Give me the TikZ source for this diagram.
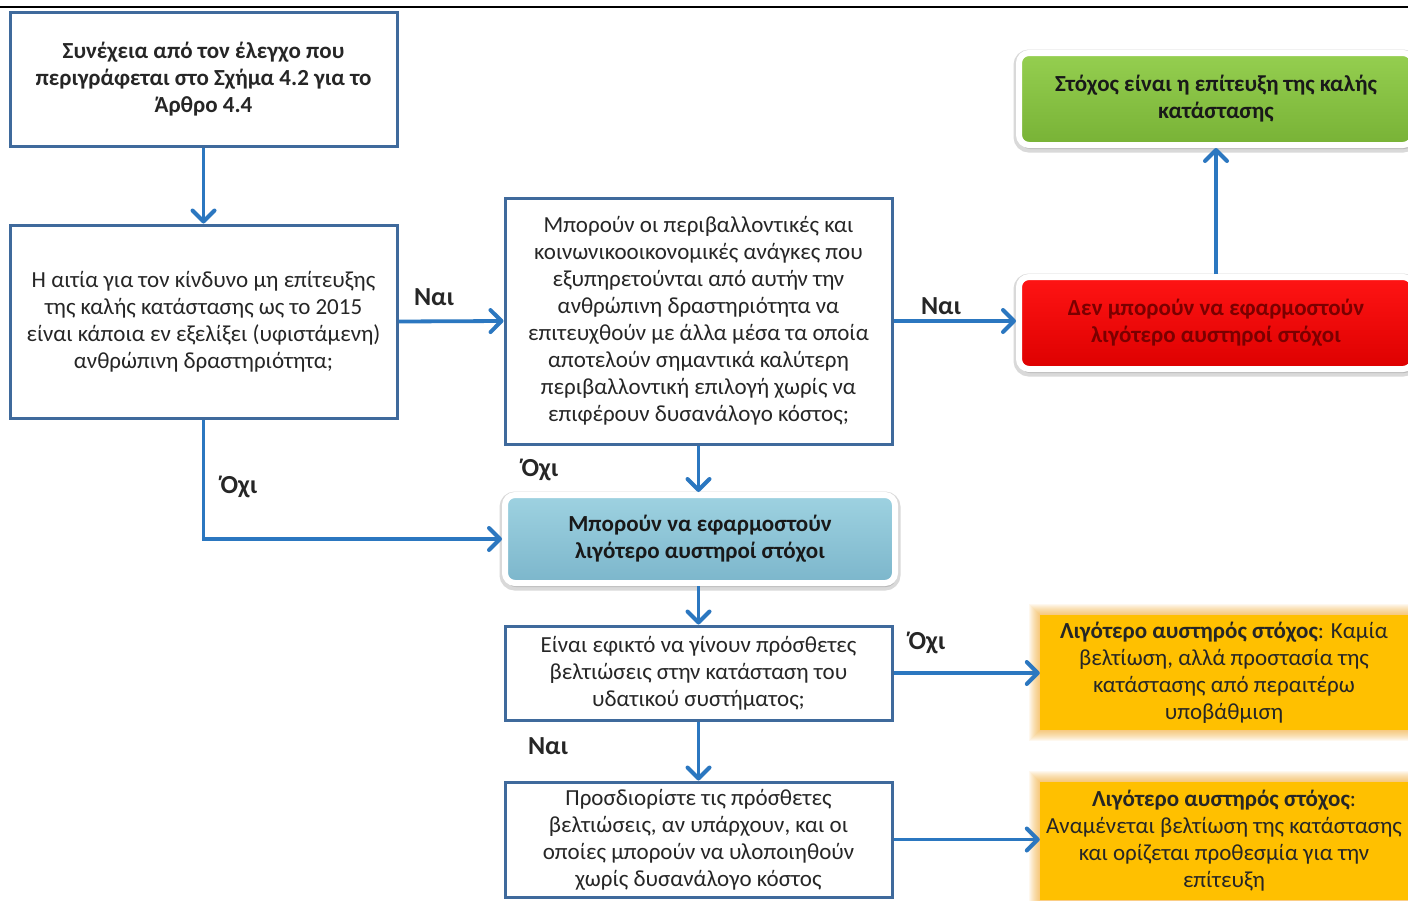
\documentclass[tikz,border=0pt]{standalone}
\usepackage{fontspec}
\setmainfont{Carlito}
\usetikzlibrary{arrows.meta,shadows}
\definecolor{boxblue}{HTML}{3F6A9C}
\definecolor{arrblue}{HTML}{2B77C0}
\definecolor{darkred}{HTML}{7A0000}
\definecolor{orangefill}{HTML}{FFC000}
\definecolor{glow}{HTML}{F7A21B}
\definecolor{gtop}{HTML}{95CF50}
\definecolor{gbot}{HTML}{78B236}
\definecolor{rtop}{HTML}{FF1414}
\definecolor{rbot}{HTML}{DD0000}
\definecolor{btop}{HTML}{9ED2E1}
\definecolor{bbot}{HTML}{7CB6CB}
\definecolor{txt}{HTML}{262626}
\tikzset{
  box/.style={draw=boxblue, line width=3pt, fill=white, align=center,
    font=\fontsize{23}{27}\selectfont, inner sep=0pt, text=txt},
  roundbox/.style={rounded corners=10pt, draw=white, line width=6pt, align=center,
    font=\bfseries\fontsize{23}{27}\selectfont, inner sep=0pt,
    preaction={draw=black!15, line width=11pt, transform canvas={yshift=-2pt}},
    drop shadow={shadow xshift=1pt, shadow yshift=-4pt, opacity=0.22, fill=black!70}},
  obox/.style={fill=orangefill, align=center, font=\fontsize{23}{27}\selectfont,
    inner sep=0pt, text=txt},
  conn/.style={draw=arrblue, line width=3.8pt,
    -{Straight Barb[length=11pt,width=22pt,line width=4pt,round]}},
  lbl/.style={font=\bfseries\fontsize{26}{30}\selectfont, text=txt},
}
\begin{document}
\begin{tikzpicture}[x=1pt,y=-1pt]
\useasboundingbox (0,0) rectangle (1408,900);
\fill[white] (0,0) rectangle (1408,900);
\draw[black, line width=2pt] (0,7) -- (1408,7);

% rectangular boxes
\node[box, minimum width=387pt, minimum height=134pt, font=\bfseries\fontsize{23}{27}\selectfont] (a) at (203.5,79)
  {Συνέχεια από τον έλεγχο που\\περιγράφεται στο Σχήμα 4.2 για το\\Άρθρο 4.4};
\node[box, minimum width=387pt, minimum height=193pt] (b) at (203.5,321.5)
  {Η αιτία για τον κίνδυνο μη επίτευξης\\της καλής κατάστασης ως το 2015\\είναι κάποια εν εξελίξει (υφιστάμενη)\\ανθρώπινη δραστηριότητα;};
\node[box, minimum width=387pt, minimum height=246pt] (c) at (698.5,321)
  {Μπορούν οι περιβαλλοντικές και\\κοινωνικοοικονομικές ανάγκες που\\εξυπηρετούνται από αυτήν την\\ανθρώπινη δραστηριότητα να\\επιτευχθούν με άλλα μέσα τα οποία\\αποτελούν σημαντικά καλύτερη\\περιβαλλοντική επιλογή χωρίς να\\επιφέρουν δυσανάλογο κόστος;};
\node[box, minimum width=387pt, minimum height=94pt] (d) at (698.5,673)
  {Είναι εφικτό να γίνουν πρόσθετες\\βελτιώσεις στην κατάσταση του\\υδατικού συστήματος;};
\node[box, minimum width=387pt, minimum height=115pt] (e) at (698.5,839.5)
  {Προσδιορίστε τις πρόσθετες\\βελτιώσεις, αν υπάρχουν, και οι\\οποίες μπορούν να υλοποιηθούν\\χωρίς δυσανάλογο κόστος};

% rounded coloured boxes
\node[roundbox, minimum width=394pt, minimum height=92pt, top color=gtop, bottom color=gbot, text=black!90] (g) at (1216,99)
  {Στόχος είναι η επίτευξη της καλής\\κατάστασης};
\node[roundbox, minimum width=394pt, minimum height=92pt, top color=rtop, bottom color=rbot, text=darkred] (r) at (1216,323)
  {Δεν μπορούν να εφαρμοστούν\\λιγότερο αυστηροί στόχοι};
\node[roundbox, minimum width=390pt, minimum height=88pt, top color=btop, bottom color=bbot, text=black!90] (bl) at (700,539)
  {Μπορούν να εφαρμοστούν\\λιγότερο αυστηροί στόχοι};

% orange glow boxes
\foreach \i in {1,...,11}{
  \fill[glow, opacity=0.065] (1040-\i,615-\i) rectangle (1408+\i,730+\i);
  \fill[glow, opacity=0.065] (1040-\i,782-\i) rectangle (1408+\i,900+\i);
}
\node[obox, minimum width=368pt, minimum height=115pt] (o1) at (1224,672.5)
  {\textbf{Λιγότερο αυστηρός στόχος}: Καμία\\βελτίωση, αλλά προστασία της\\κατάστασης από περαιτέρω\\υποβάθμιση};
\node[obox, minimum width=368pt, minimum height=118pt] (o2) at (1224,841)
  {\textbf{Λιγότερο αυστηρός στόχος}:\\Αναμένεται βελτίωση της κατάστασης\\και ορίζεται προθεσμία για την\\επίτευξη};

% connectors
\draw[conn] (a.south) -- (b.north);
\draw[conn] (b.east) -- (c.west);
\draw[conn] (c.east) -- (c.east -| r.west);
\draw[conn] (r.north) -- (g.south);
\draw[conn] (c.south) -- (c.south |- bl.north);
\draw[conn] (b.south) |- (bl.west);
\draw[conn] (bl.south -| d.north) -- (d.north);
\draw[conn] (d.east) -- (d.east -| o1.west);
\draw[conn] (d.south) -- (e.north);
\draw[conn] (e.east) -- (e.east -| o2.west);

% labels
\node[lbl] (l1) at (434,297) {Ναι};
\node[lbl] (l2) at (941,306) {Ναι};
\node[lbl] (l3) at (540,470) {Όχι};
\node[lbl] (l4) at (239,487) {Όχι};
\node[lbl] (l5) at (927,643) {Όχι};
\node[lbl] (l6) at (548,746) {Ναι};
\end{tikzpicture}
\end{document}
